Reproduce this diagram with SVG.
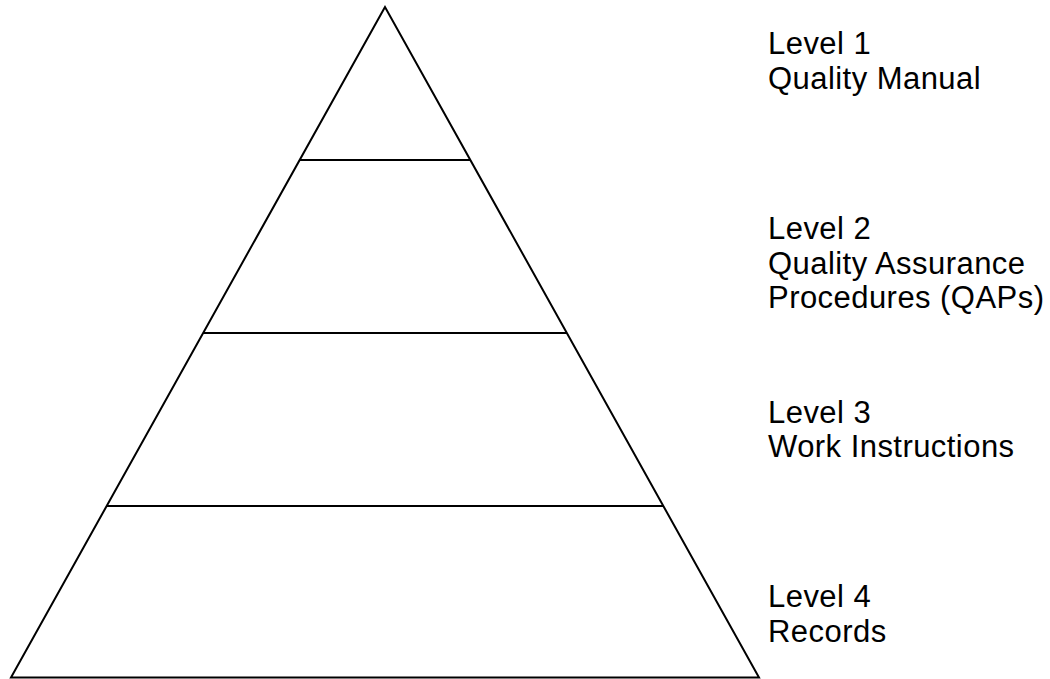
<svg xmlns="http://www.w3.org/2000/svg" width="1050" height="679" viewBox="0 0 1050 679">
<style>
.ln{stroke:#000;stroke-width:2;fill:none;stroke-linejoin:miter}
.t{font-family:"Liberation Sans",Arial,sans-serif;font-size:31px;letter-spacing:0.45px;fill:#000}
</style>
<rect width="1050" height="679" fill="#fff"/>
<g id="pyramid">
<polygon class="ln" points="385,7 11,677.5 759,677.5"/>
</g>
<g id="connectors">
<line class="ln" x1="299.6" y1="160" x2="470.4" y2="160"/>
<line class="ln" x1="203" y1="333" x2="567" y2="333"/>
<line class="ln" x1="106.5" y1="506" x2="663.5" y2="506"/>
</g>
<g id="level1">
<text class="t" x="768" y="54">Level 1</text>
<text class="t" x="768" y="88.5">Quality Manual</text>
</g>
<g id="level2">
<text class="t" x="768" y="239">Level 2</text>
<text class="t" x="768" y="273.5">Quality Assurance</text>
<text class="t" x="768" y="308">Procedures (QAPs)</text>
</g>
<g id="level3">
<text class="t" x="768" y="422.5">Level 3</text>
<text class="t" x="768" y="457">Work Instructions</text>
</g>
<g id="level4">
<text class="t" x="768" y="607">Level 4</text>
<text class="t" x="768" y="641.5">Records</text>
</g>
</svg>
